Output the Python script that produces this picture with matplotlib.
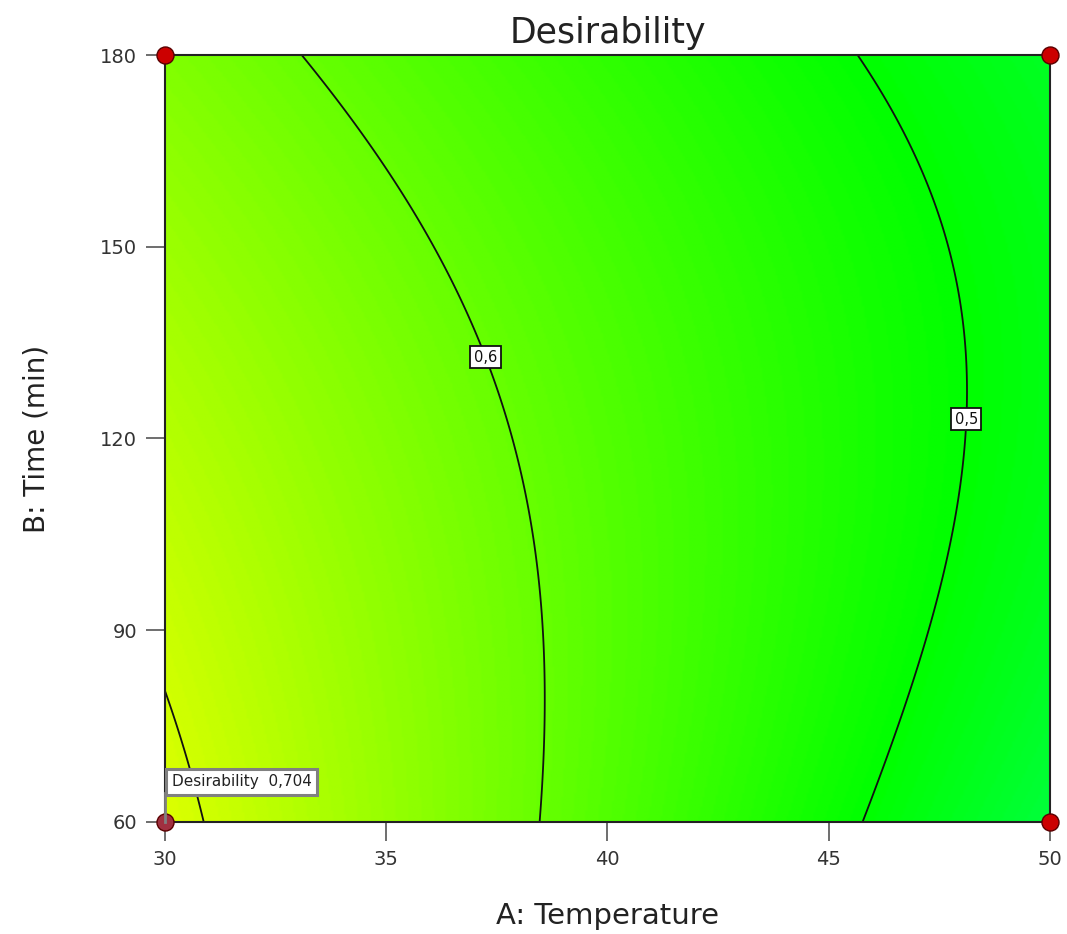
import numpy as np
import matplotlib
matplotlib.use("Agg")
import matplotlib.pyplot as plt
from matplotlib.colors import LinearSegmentedColormap

# ---- data ----
title = "Desirability"
x_label = "A: Temperature"
y_label = "B: Time (min)"
x_ticks = [30, 35, 40, 45, 50]
y_ticks = [60, 90, 120, 150, 180]
x_range = [30, 50]
y_range = [60, 180]
# quadratic response-surface model in coded units a=(A-40)/10, b=(B-120)/60
# terms: 1, a, b, ab, a^2, b^2, ab^2
model_terms = ["1", "a", "b", "ab", "a2", "b2", "ab2"]
model_coefs = [0.579, -0.0977, -0.017, 0.0287, 0.0, -0.017, -0.0106]
contour_levels = [0.5, 0.6, 0.704]
contour_label_pos = [(37.35, 133.0), (48.05, 123.0)]
design_points_x = [30, 50, 30, 50]
design_points_y = [60, 60, 180, 180]
flag_x, flag_y = 30, 60
flag_text = "Desirability  0,704"

plt.rcParams['font.family'] = ['DejaVu Sans']

fig = plt.figure(figsize=(10.67, 9.34), dpi=100)
ax = fig.add_axes([0.1546, 0.12, 0.984 - 0.1546, 0.9411 - 0.12])

A = np.linspace(x_range[0], x_range[1], 400)
B = np.linspace(y_range[0], y_range[1], 400)
AA, BB = np.meshgrid(A, B)
a = (AA - 40) / 10
b = (BB - 120) / 60
basis = {"1": np.ones_like(a), "a": a, "b": b, "ab": a * b,
         "a2": a ** 2, "b2": b ** 2, "ab2": a * b ** 2}
Z = sum(c * basis[t] for t, c in zip(model_terms, model_coefs))

cmap = LinearSegmentedColormap.from_list(
    "de", [(0, 0, 1), (0, 1, 1), (0, 1, 0), (1, 1, 0), (1, 0, 0)])
ax.imshow(Z, extent=[x_range[0], x_range[1], y_range[0], y_range[1]],
          origin='lower', aspect='auto', cmap=cmap, vmin=0, vmax=1,
          interpolation='bilinear')

cs = ax.contour(AA, BB, Z, levels=contour_levels, colors='#111111', linewidths=1.3)
labels = ax.clabel(cs, levels=contour_levels[:2], inline=True, fontsize=10.5,
                   fmt=lambda v: f"{v:.1f}".replace('.', ','),
                   manual=contour_label_pos, inline_spacing=0)
for t in labels:
    t.set_rotation(0)
    t.set_zorder(4)
    t.set_bbox(dict(facecolor='white', edgecolor='#111111', pad=2.5, linewidth=1.3))

# design points
ax.scatter(design_points_x[1:], design_points_y[1:], s=150, color='#cc0000',
           edgecolors='#5a0000', linewidths=1, zorder=5, clip_on=False)
ax.scatter([flag_x], [flag_y], s=150, color='#a03040',
           edgecolors='#5a0000', linewidths=1, zorder=5, clip_on=False)

# flag
ax.plot([flag_x, flag_x], [flag_y, 64.5], color='gray', lw=2, zorder=6, clip_on=False)
ax.text(30.15, 66.3, flag_text, fontsize=11, ha='left', va='center', zorder=7,
        color='#222222',
        bbox=dict(facecolor='white', edgecolor='gray', linewidth=2.2, pad=4))

ax.set_xlim(x_range)
ax.set_ylim(y_range)
ax.set_xticks(x_ticks)
ax.set_yticks(y_ticks)
ax.tick_params(axis='both', direction='out', length=14, width=1.2, color='#555555',
               labelsize=14, labelcolor='#333333', pad=6)
for s in ax.spines.values():
    s.set_linewidth(1.5)
    s.set_color('#222222')

ax.set_title(title, fontsize=25, pad=9, color='#222222')
ax.set_xlabel(x_label, fontsize=21, labelpad=24, color='#222222')
ax.set_ylabel(y_label, fontsize=20, labelpad=36, color='#222222')

fig.savefig("out.png", dpi=100)
